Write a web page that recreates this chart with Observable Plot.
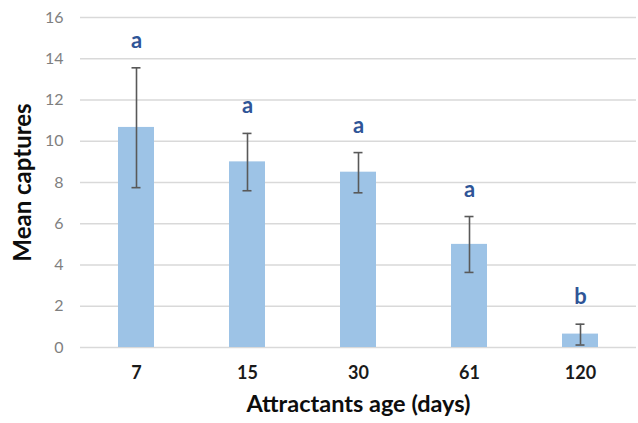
<!DOCTYPE html>
<html>
<head>
<meta charset="utf-8">
<script src="https://cdn.jsdelivr.net/npm/d3@7"></script>
<script src="https://cdn.jsdelivr.net/npm/@observablehq/plot@0.6"></script>
<style>
  html, body { margin: 0; padding: 0; background: #fff; }
  #chart svg { display: block; }
</style>
</head>
<body>
<div id="chart"></div>
<script>
const ages = ["7", "15", "30", "61", "120"];
const means = [10.67, 9.0, 8.5, 5.0, 0.65];
const lower = [7.75, 7.6, 7.5, 3.64, 0.12];
const upper = [13.56, 10.38, 9.45, 6.35, 1.13];
const groups = ["a", "a", "a", "a", "b"];
const yTicks = [0, 2, 4, 6, 8, 10, 12, 14, 16];

const rows = ages.map((age, i) => ({age, mean: means[i], lo: lower[i], hi: upper[i], grp: groups[i]}));

const chart = Plot.plot({
  width: 638,
  height: 423,
  marginLeft: 80,
  marginRight: 2,
  marginTop: 17,
  marginBottom: 76,
  style: {fontFamily: "Lato, 'Open Sans', sans-serif", background: "#fff"},
  x: {domain: ages, paddingInner: 0.68, paddingOuter: 0.34, label: null},
  y: {domain: [0, 16], label: null},
  marks: [
    Plot.ruleY(yTicks, {stroke: "#d9d9d9", strokeWidth: 1.3}),
    Plot.axisY(yTicks, {tickSize: 0, tickPadding: 17, fontSize: 16, fill: "#7f7f7f", label: null}),
    Plot.axisX({tickSize: 0, tickPadding: 19, fontSize: 18, fontWeight: "bold", fill: "#1a1a1a", label: null}),
    Plot.barY(rows, {x: "age", y: "mean", fill: "#9dc3e6"}),
    Plot.ruleX(rows, {x: "age", y1: "lo", y2: "hi", stroke: "#595959", strokeWidth: 1.6}),
    Plot.tickY(rows, {x: "age", y: "lo", stroke: "#595959", strokeWidth: 1.6, insetLeft: 13.5, insetRight: 13.5}),
    Plot.tickY(rows, {x: "age", y: "hi", stroke: "#595959", strokeWidth: 1.6, insetLeft: 13.5, insetRight: 13.5}),
    Plot.text(rows, {x: "age", y: "hi", text: "grp", dy: -27, fontSize: 22, fontWeight: "bold", fill: "#2f5597", lineAnchor: "middle"}),
    Plot.text(["Mean captures"], {frameAnchor: "left", textAnchor: "middle", dx: -57, rotate: -90, fontSize: 24, fontWeight: "bold", fill: "#0d0d0d"}),
    Plot.text(["Attractants age (days)"], {frameAnchor: "bottom", dy: 64, fontSize: 23.5, fontWeight: "bold", fill: "#0d0d0d"})
  ]
});
document.getElementById("chart").appendChild(chart);
</script>
</body>
</html>
